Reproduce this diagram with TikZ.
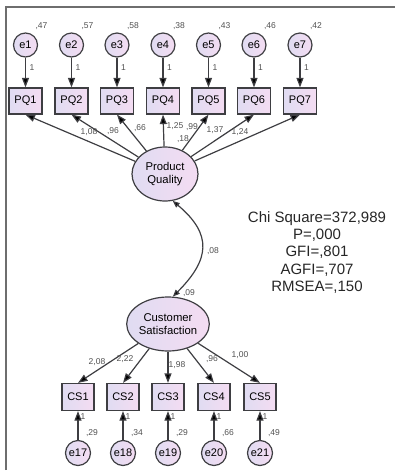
\documentclass[tikz,border=0pt]{standalone}
\usepackage{fontspec}
\setmainfont{Liberation Sans}
\usetikzlibrary{arrows.meta,shapes.geometric}
\definecolor{edgec}{RGB}{62,62,66}
\definecolor{lavl}{RGB}{224,220,242}
\definecolor{lavr}{RGB}{244,220,242}
\definecolor{numc}{RGB}{80,80,80}
\definecolor{framec}{RGB}{110,110,110}

\begin{document}
\begin{tikzpicture}[x=1pt,y=1pt,
  shaded/.style={draw=edgec,line width=1.2pt,left color=lavl,right color=lavr},
  err/.style={shaded,circle,minimum size=24pt,inner sep=0pt,font=\fontsize{11}{12}\selectfont},
  obs/.style={shaded,rectangle,minimum width=33pt,minimum height=26pt,inner sep=0pt,font=\fontsize{11}{12}\selectfont},
  lat/.style={shaded,ellipse,minimum width=66pt,minimum height=54pt,inner sep=0pt,align=center,font=\fontsize{11.3}{12.5}\selectfont},
  arr/.style={draw=edgec,line width=1.2pt,-{Triangle[length=9.5pt,width=7pt,fill=black]}},
  cov/.style={draw=edgec,line width=1.2pt,{Triangle[length=7pt,width=5.5pt,fill=black]}-{Triangle[length=7pt,width=5.5pt,fill=black]}},
  num/.style={font=\fontsize{8.5}{9}\selectfont,text=numc,inner sep=0pt},
  fit/.style={font=\fontsize{15}{17.3}\selectfont,align=center,text=black!85,inner sep=0pt}
]
\useasboundingbox (0,0) rectangle (395,-475);

% frame edges
\draw[framec,line width=1.6pt] (6,-470) -- (6,-7) -- (395,-7);

% Product Quality block
\node[lat] (pq) at (165,-174) {Product\\Quality};
\foreach \i/\x/\v in {1/25.5/47, 2/71.5/57, 3/117/58, 4/163/38, 5/208.5/43, 6/254/46, 7/300/42}{
  \node[err] (e\i) at (\x,-45) {e\i};
  \node[obs] (pq\i) at (\x,-101) {PQ\i};
  \draw[arr] (e\i) -- (pq\i);
  \draw[arr] (pq) -- (pq\i.south);
  \node[num] at (\x+6.5,-68) {1};
  \node[num] at (\x+16,-26) {,\v};
}
\node[num] at (89,-132) {1,08};
\node[num] at (113,-131) {,96};
\node[num] at (140,-128) {,66};
\node[num] at (175,-126) {1,25};
\node[num] at (192,-127) {,99};
\node[num] at (183,-139) {,18};
\node[num] at (215,-130) {1,37};
\node[num] at (240,-132) {1,24};

% Customer Satisfaction block
\node[lat,minimum width=64pt] (cs) at (168,-324) {Customer\\Satisfaction};
\foreach \i/\x/\v in {1/78/29, 2/123/34, 3/168/29, 4/214/66, 5/260/49}{
  \pgfmathtruncatemacro{\k}{\i+16}
  \node[obs,minimum width=32pt,minimum height=27pt] (cs\i) at (\x,-397) {CS\i};
  \node[err,minimum size=25pt] (e\k) at (\x,-453) {e\k};
  \draw[arr] (e\k) -- (cs\i.south);
  \draw[arr] (cs) -- (cs\i.north);
  \node[num] at (\x+5,-417) {1};
  \node[num] at (\x+14,-433) {,\v};
}
\node[num] at (97,-362) {2,08};
\node[num] at (125,-359) {2,22};
\node[num] at (177,-365) {1,98};
\node[num] at (212,-359) {,96};
\node[num] at (240,-355) {1,00};

% covariance between the latent factors
\draw[cov] (pq.-74) to[out=-40,in=45,looseness=1.4] (cs.80);
\node[num] at (213,-251) {,08};
\node[num] at (189,-293) {,09};

% fit indices
\node[fit] (fitidx) at (317,-252.5) {Chi Square=372,989\\P=,000\\GFI=,801\\AGFI=,707\\RMSEA=,150};
\end{tikzpicture}
\end{document}
